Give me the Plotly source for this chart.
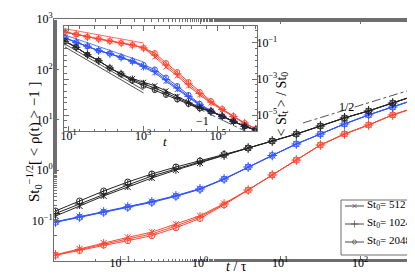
import plotly.graph_objects as go

# ---------------- data ----------------
t_main = [0.015625, 0.03125, 0.0625, 0.125, 0.25, 0.5, 1, 2, 4, 8, 16, 32, 64, 128, 256, 512]

black_o = [0.155, 0.245, 0.386, 0.583, 0.841, 1.157, 1.524, 2.05, 2.75, 3.79, 5.22, 7.53, 10.9, 15.0, 21.5, 31.0]
black_p = [0.138, 0.213, 0.337, 0.508, 0.767, 1.056, 1.455, 2.00, 2.75, 3.79, 5.22, 7.53, 10.9, 15.0, 21.5, 31.0]
black_x = [0.123, 0.195, 0.308, 0.464, 0.700, 1.009, 1.390, 1.96, 2.75, 3.79, 5.22, 7.53, 10.9, 15.0, 21.5, 31.0]

blue_o = [0.0925, 0.116, 0.146, 0.183, 0.230, 0.303, 0.418, 0.66, 1.15, 1.96, 3.31, 5.22, 8.26, 12.5, 17.9, 25.9]
blue_p = [0.0938, 0.118, 0.148, 0.186, 0.234, 0.308, 0.424, 0.669, 1.157, 1.96, 3.31, 5.22, 8.26, 12.5, 17.9, 25.9]
blue_x = [0.0950, 0.120, 0.151, 0.190, 0.239, 0.314, 0.430, 0.675, 1.16, 1.96, 3.31, 5.22, 8.26, 12.5, 17.9, 25.9]

red_o = [0.0205, 0.0255, 0.0325, 0.040, 0.050, 0.072, 0.110, 0.205, 0.400, 0.803, 1.59, 3.16, 5.22, 7.89, 12.5, 17.9]
red_p = [0.0208, 0.0267, 0.0344, 0.0432, 0.0542, 0.0782, 0.118, 0.213, 0.404, 0.803, 1.59, 3.16, 5.22, 7.89, 12.5, 17.9]
red_x = [0.0210, 0.0275, 0.0360, 0.0465, 0.0590, 0.0850, 0.125, 0.218, 0.408, 0.803, 1.59, 3.16, 5.22, 7.89, 12.5, 17.9]

half_t = [19.4, 422]
half_v = [8.65, 39.0]

# inset
t_in = [8, 16, 32, 64, 128, 256, 512, 1024, 2048, 4096, 8192, 16384, 32768,
        65536, 131072, 262144, 524288, 1048576]

red_in_o = [0.408, 0.297, 0.216, 0.167, 0.129, 0.100, 0.0774, 0.0528, 0.0278, 0.00774, 0.00245,
            6.81e-4, 1.90e-4, 6.0e-5, 2.15e-5, 8.8e-6, 3.6e-6, 1.67e-6]
red_in_p = [0.408, 0.297, 0.216, 0.167, 0.129, 0.100, 0.0774, 0.0528, 0.0215, 0.0060, 0.0019,
            5.27e-4, 1.56e-4, 5.27e-5, 2.02e-5, 8.25e-6, 3.6e-6, 1.67e-6]
red_in_x = [0.408, 0.297, 0.216, 0.167, 0.129, 0.100, 0.0774, 0.0528, 0.0167, 0.00464, 0.00147,
            4.08e-4, 1.29e-4, 4.64e-5, 1.90e-5, 7.74e-6, 3.37e-6, 1.67e-6]

blue_in_o = [0.190, 0.109, 0.0656, 0.0374, 0.0255, 0.0161, 0.0100, 0.0060, 0.0034, 0.00120, 4.1e-4,
             1.3e-4, 4.2e-5, 1.7e-5, 8.6e-6, 4.5e-6, 2.36e-6, 1.47e-6]
blue_in_p = [0.190, 0.109, 0.0656, 0.0374, 0.0255, 0.0161, 0.00962, 0.00508, 0.00268, 9.15e-4, 3.16e-4,
             1.09e-4, 3.73e-5, 1.61e-5, 8.47e-6, 4.47e-6, 2.36e-6, 1.47e-6]
blue_in_x = [0.190, 0.109, 0.0656, 0.0374, 0.0255, 0.0161, 0.0093, 0.0045, 0.0022, 7.5e-4, 2.6e-4,
             9.5e-5, 3.4e-5, 1.55e-5, 8.3e-6, 4.4e-6, 2.36e-6, 1.47e-6]

black_in_x = [0.124, 0.0577, 0.0224, 0.0104, 0.00408, 0.0019, 0.00105, 6.6e-4, 4.2e-4, 2.2e-4, 1.1e-4,
              5.2e-5, 2.6e-5, 1.65e-5, 8.5e-6, 4.47e-6, 2.36e-6, 1.47e-6]
black_in_p = [0.124, 0.0577, 0.0224, 0.0104, 0.00408, 0.0019, 9.15e-4, 5.27e-4, 3.16e-4, 1.67e-4, 8.8e-5,
              4.64e-5, 2.45e-5, 1.61e-5, 8.47e-6, 4.47e-6, 2.36e-6, 1.47e-6]
black_in_o = [0.124, 0.0577, 0.0224, 0.0104, 0.00408, 0.0019, 8.0e-4, 4.2e-4, 2.4e-4, 1.3e-4, 7.2e-5,
              4.1e-5, 2.3e-5, 1.58e-5, 8.4e-6, 4.47e-6, 2.36e-6, 1.47e-6]

ref_t = [8, 1024]
red_ref = [0.62, 0.10]
blue_ref = [0.278, 0.0088]
black_ref1 = [0.088, 2.45e-4]
black_ref2 = [0.060, 1.67e-4]
minus1_t = [1.9e4, 6.5e5]
minus1_v = [3.6e-5, 1.07e-6]

legend_labels = ["St<sub>0</sub>= 512", "St<sub>0</sub>= 1024", "St<sub>0</sub>= 2048"]

main_x_ticks = [0.1, 1, 10, 100]
main_x_text = ["10<sup>−1</sup>", "10<sup>0</sup>", "10<sup>1</sup>", "10<sup>2</sup>"]
main_y_ticks = [0.1, 1, 10, 100, 1000]
main_y_text = ["10<sup>−1</sup>", "10<sup>0</sup>", "10<sup>1</sup>", "10<sup>2</sup>", "10<sup>3</sup>"]
in_x_ticks = [10, 1e3, 1e5]
in_x_text = ["10<sup>1</sup>", "10<sup>3</sup>", "10<sup>5</sup>"]
in_y_ticks = [1e-1, 1e-3, 1e-5]
in_y_text = ["10<sup>−1</sup>", "10<sup>−3</sup>", "10<sup>−5</sup>"]

# ---------------- style ----------------
RED = "rgb(255,72,52)"
BLUE = "rgb(50,85,255)"
BLACK = "rgb(35,35,35)"
GREY = "rgb(110,110,110)"
LEG = "rgb(70,70,70)"
FONT = "Liberation Serif"

SYM = {"x": ("x-thin", 6), "p": ("cross-thin", 7), "o": ("circle-open", 6)}

W, H = 415, 277
L, R, T, B = 46, 2, 11, 24
pw, ph = W - L - R, H - T - B


def px_x(px):
    return (px - L) / pw


def px_y(py):
    return (H - B - py) / ph


fig = go.Figure()


def add_series(x, y, col, kind, xa="x", ya="y", shrink=0):
    sym, sz = SYM[kind]
    fig.add_trace(go.Scatter(
        x=x, y=y, mode="lines+markers", xaxis=xa, yaxis=ya, showlegend=False,
        line=dict(color=col, width=1),
        marker=dict(symbol=sym, size=sz - shrink, color=col, line=dict(color=col, width=1)),
    ))


for col, series in [(RED, (red_x, red_p, red_o)), (BLUE, (blue_x, blue_p, blue_o)),
                    (BLACK, (black_x, black_p, black_o))]:
    for kind, s in zip(("x", "p", "o"), series):
        add_series(t_main, s, col, kind)

fig.add_trace(go.Scatter(x=half_t, y=half_v, mode="lines", showlegend=False,
                         line=dict(color=BLACK, width=0.8, dash="dashdot")))

# inset reference lines
for col, v in [(RED, red_ref), (BLUE, blue_ref), (BLACK, black_ref1), (BLACK, black_ref2)]:
    fig.add_trace(go.Scatter(x=ref_t, y=v, mode="lines", xaxis="x2", yaxis="y2",
                             showlegend=False, line=dict(color=col, width=0.8)))
fig.add_trace(go.Scatter(x=minus1_t, y=minus1_v, mode="lines", xaxis="x2", yaxis="y2",
                         showlegend=False, line=dict(color=BLACK, width=0.8, dash="dashdot")))

for col, series in [(RED, (red_in_x, red_in_p, red_in_o)), (BLUE, (blue_in_x, blue_in_p, blue_in_o)),
                    (BLACK, (black_in_x, black_in_p, black_in_o))]:
    for kind, s in zip(("x", "p", "o"), series):
        add_series(t_in, s, col, kind, "x2", "y2", shrink=1)

# ---- hand-built legend (key glyphs drawn on a pixel-scaled helper axis) ----
leg_box = (333, 192, 408, 247)   # left, top, right, bottom in px
leg_rows = [198, 216, 234]
leg_line = (337, 356)
leg_mid = (leg_line[0] + leg_line[1]) / 2
for kind, row in zip(("x", "p", "o"), leg_rows):
    sym, sz = SYM[kind]
    fig.add_trace(go.Scatter(
        x=[leg_line[0], leg_mid, leg_line[1]], y=[row, row, row],
        mode="lines+markers", xaxis="x3", yaxis="y3", showlegend=False, hoverinfo="skip",
        line=dict(color=LEG, width=1),
        marker=dict(symbol=sym, size=[0, sz - 2, 0], color=LEG, line=dict(color=LEG, width=1))))

axis_common = dict(type="log", showline=True, linecolor=GREY, linewidth=1, mirror="ticks",
                   ticks="inside", ticklen=5, tickcolor=GREY, showgrid=False, zeroline=False,
                   automargin=False,
                   tickfont=dict(family=FONT, size=12, color="black"),
                   minor=dict(ticks="inside", ticklen=2.5, tickcolor=GREY, showgrid=False))

annotations = [
    dict(text="St<sub>0</sub><sup>−1/2</sup>[ < ρ(t) > −1 ]", xref="paper", yref="paper",
         x=px_x(14), y=px_y(134), textangle=-90, showarrow=False,
         font=dict(family=FONT, size=15)),
    dict(text="<i>t</i> / τ", xref="paper", yref="paper", x=px_x(228), y=px_y(268),
         showarrow=False, font=dict(family=FONT, size=14)),
    dict(text="<i>t</i>", xref="paper", yref="paper", x=px_x(153), y=px_y(133),
         showarrow=False, font=dict(family=FONT, size=13)),
    dict(text="< St<sub>t</sub> > / St<sub>0</sub>", xref="paper", yref="paper",
         x=px_x(274), y=px_y(62), textangle=-90, showarrow=False,
         font=dict(family=FONT, size=14)),
    dict(text="1/2", xref="paper", yref="paper", x=px_x(348), y=px_y(90),
         showarrow=False, font=dict(family=FONT, size=12)),
    dict(text="−1", xref="paper", yref="paper", x=px_x(194), y=px_y(113),
         showarrow=False, font=dict(family=FONT, size=12)),
]
for lab, row in zip(legend_labels, leg_rows):
    annotations.append(dict(text=lab, xref="paper", yref="paper", x=px_x(357), y=px_y(row - 1),
                            xanchor="left", yanchor="middle", showarrow=False,
                            font=dict(family=FONT, size=11)))

fig.update_layout(
    template="none",
    width=W, height=H, margin=dict(l=L, r=R, t=T, b=B, pad=0),
    paper_bgcolor="white", plot_bgcolor="white",
    font=dict(family=FONT, size=12, color="black"),
    showlegend=False,
    xaxis=dict(axis_common, range=[-1.825, 2.7625], tickvals=main_x_ticks, ticktext=main_x_text,
               ticklabelstandoff=-9),
    yaxis=dict(axis_common, range=[-1.802, 3.0], tickvals=main_y_ticks, ticktext=main_y_text,
               ticklabelstandoff=-2),
    xaxis2=dict(axis_common, domain=[px_x(56), px_x(249)], anchor="y2", range=[0.877, 6.051],
                tickvals=in_x_ticks, ticktext=in_x_text, ticklabelstandoff=-6),
    yaxis2=dict(axis_common, domain=[px_y(123), px_y(18)], anchor="x2", side="right",
                range=[-5.889, -0.056], tickvals=in_y_ticks, ticktext=in_y_text,
                ticklabelstandoff=-4),
    xaxis3=dict(overlaying="x", range=[L, W - R], visible=False, fixedrange=True, anchor="y3"),
    yaxis3=dict(overlaying="y", range=[H - B, T], visible=False, fixedrange=True, anchor="x3"),
    shapes=[dict(type="rect", xref="paper", yref="paper",
                 x0=px_x(leg_box[0]), x1=px_x(leg_box[2]),
                 y0=px_y(leg_box[3]), y1=px_y(leg_box[1]),
                 line=dict(color=GREY, width=1), fillcolor="rgba(0,0,0,0)", layer="above")],
    annotations=annotations,
)

fig.write_html("out.html")
